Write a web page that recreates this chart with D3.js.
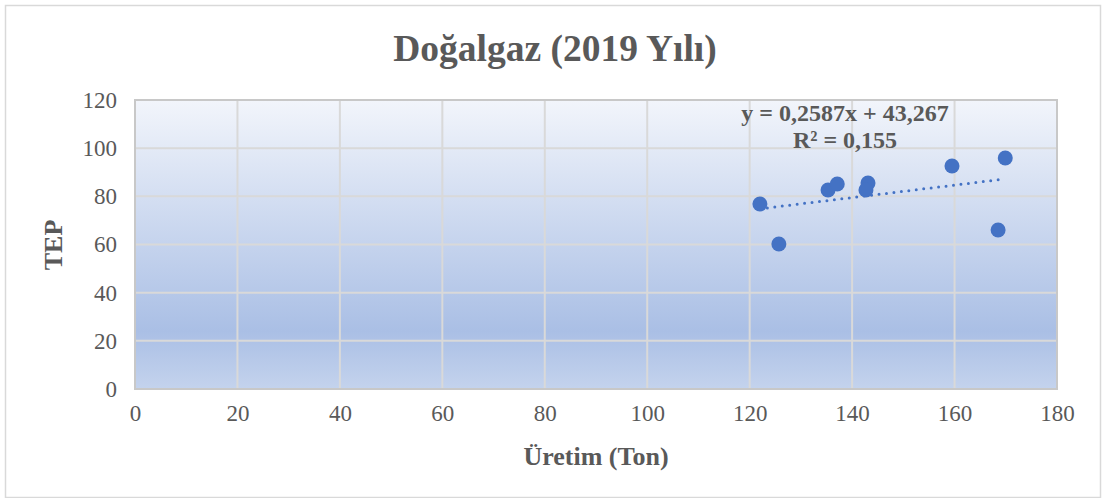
<!DOCTYPE html>
<html>
<head>
<meta charset="utf-8">
<script src="https://cdn.jsdelivr.net/npm/d3@7"></script>
<style>
  body { margin: 0; background: #fff; }
  text { font-family: "Liberation Serif", "Times New Roman", serif; }
</style>
</head>
<body>
<div id="chart"></div>
<script>
const uretim = [122.0, 125.7, 135.3, 137.1, 143.1, 142.7, 159.5, 168.5, 169.9];
const tep = [76.8, 60.2, 82.6, 85.1, 85.5, 82.6, 92.6, 66.0, 95.9];
const xTicks = [0, 20, 40, 60, 80, 100, 120, 140, 160, 180];
const yTicks = [0, 20, 40, 60, 80, 100, 120];
const slope = 0.2587;
const intercept = 43.267;
const eqLines = ['y = 0,2587x + 43,267', 'R² = 0,155'];

const dimension = {
  width: 1107,
  height: 498,
  margin: { top: 100, right: 50, bottom: 109, left: 135 }
};

const svg = d3.select('#chart')
  .append('svg')
  .attr('width', dimension.width)
  .attr('height', dimension.height);

// chart border
svg.append('rect')
  .attr('x', 5.5).attr('y', 5.5)
  .attr('width', 1095).attr('height', 492)
  .attr('fill', '#fff')
  .attr('stroke', '#d9d9d9')
  .attr('stroke-width', 1.5);

const defs = svg.append('defs');
const grad = defs.append('linearGradient')
  .attr('id', 'bg').attr('x1', 0).attr('y1', 0).attr('x2', 0).attr('y2', 1);
grad.append('stop').attr('offset', '0%').attr('stop-color', '#f2f5fb');
grad.append('stop').attr('offset', '80%').attr('stop-color', '#aabfe5');
grad.append('stop').attr('offset', '100%').attr('stop-color', '#c4d3ed');

const w = dimension.width - dimension.margin.left - dimension.margin.right;
const h = dimension.height - dimension.margin.top - dimension.margin.bottom;

const ctr = svg.append('g')
  .attr('transform', `translate(${dimension.margin.left}, ${dimension.margin.top})`);

const xScale = d3.scaleLinear().domain([0, 180]).range([0, w]);
const yScale = d3.scaleLinear().domain([0, 120]).range([h, 0]);

ctr.append('rect')
  .attr('width', w).attr('height', h)
  .attr('fill', 'url(#bg)');

// grid
ctr.selectAll('.vgrid')
  .data(xTicks.slice(1, -1))
  .join('line')
  .attr('x1', d => xScale(d)).attr('x2', d => xScale(d))
  .attr('y1', 0).attr('y2', h)
  .attr('stroke', '#d9d9d9').attr('stroke-width', 2);

ctr.selectAll('.hgrid')
  .data(yTicks.slice(1, -1))
  .join('line')
  .attr('y1', d => yScale(d)).attr('y2', d => yScale(d))
  .attr('x1', 0).attr('x2', w)
  .attr('stroke', '#d9d9d9').attr('stroke-width', 2);

ctr.append('rect')
  .attr('width', w).attr('height', h)
  .attr('fill', 'none')
  .attr('stroke', '#c8c8c8').attr('stroke-width', 2);

// axes
const xAxis = ctr.append('g')
  .attr('transform', `translate(0, ${h})`)
  .call(d3.axisBottom(xScale).tickValues(xTicks).tickSize(0).tickPadding(16));
const yAxis = ctr.append('g')
  .call(d3.axisLeft(yScale).tickValues(yTicks).tickSize(0).tickPadding(18));
[xAxis, yAxis].forEach(a => {
  a.select('.domain').remove();
  a.selectAll('text')
    .attr('font-family', '"Liberation Serif", serif')
    .attr('font-size', 23)
    .attr('fill', '#595959');
});

// trendline
const x0 = d3.min(uretim), x1 = d3.max(uretim);
ctr.append('line')
  .attr('x1', xScale(x0)).attr('y1', yScale(slope * x0 + intercept))
  .attr('x2', xScale(x1)).attr('y2', yScale(slope * x1 + intercept))
  .attr('stroke', '#4472c4')
  .attr('stroke-width', 3)
  .attr('stroke-linecap', 'round')
  .attr('stroke-dasharray', '0,7.5');

// points
ctr.selectAll('circle')
  .data(uretim)
  .join('circle')
  .attr('cx', d => xScale(d))
  .attr('cy', (d, i) => yScale(tep[i]))
  .attr('r', 7.5)
  .attr('fill', '#4472c4');

// equation label
svg.append('text')
  .attr('x', 845).attr('y', 121)
  .attr('text-anchor', 'middle')
  .attr('font-size', 24).attr('font-weight', 'bold')
  .attr('fill', '#595959')
  .selectAll('tspan')
  .data(eqLines)
  .join('tspan')
  .attr('x', 845)
  .attr('dy', (d, i) => i === 0 ? 0 : 27)
  .text(d => d);

// title and axis titles
svg.append('text')
  .attr('x', 555).attr('y', 61)
  .attr('text-anchor', 'middle')
  .attr('font-size', 37.5).attr('font-weight', 'bold')
  .attr('fill', '#595959')
  .text('Doğalgaz (2019 Yılı)');

svg.append('text')
  .attr('x', 596).attr('y', 465)
  .attr('text-anchor', 'middle')
  .attr('font-size', 26).attr('font-weight', 'bold')
  .attr('fill', '#595959')
  .text('Üretim (Ton)');

svg.append('text')
  .attr('transform', 'translate(62, 245) rotate(-90)')
  .attr('text-anchor', 'middle')
  .attr('font-size', 26).attr('font-weight', 'bold')
  .attr('fill', '#595959')
  .text('TEP');
</script>
</body>
</html>
